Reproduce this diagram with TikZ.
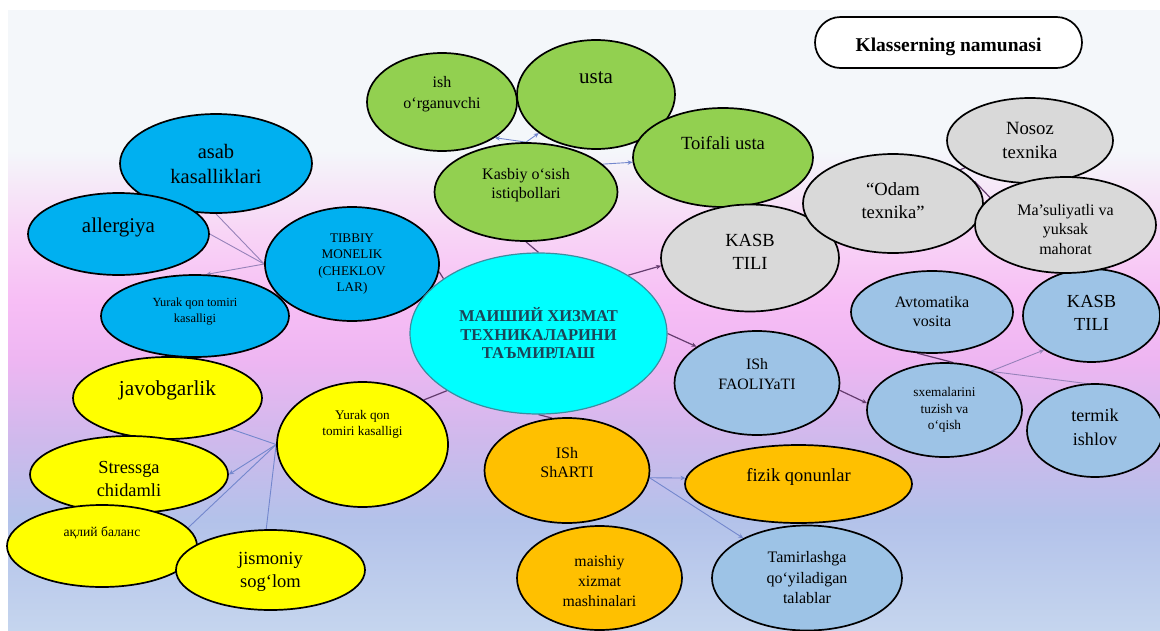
\documentclass[tikz,border=0pt]{standalone}
\usepackage{fontspec}
\setmainfont{Liberation Serif}
\usetikzlibrary{shapes.geometric,arrows.meta}
\newcommand{\myfs}[2]{\fontsize{#1}{#2}\selectfont}
\definecolor{cGreen}{HTML}{92D050}
\definecolor{cBlue}{HTML}{00B0F0}
\definecolor{cCyan}{HTML}{00FFFF}
\definecolor{cCyanB}{HTML}{3C8CA0}
\definecolor{cCenterT}{HTML}{1B4458}
\definecolor{cGrey}{HTML}{D9D9D9}
\definecolor{cLBlue}{HTML}{9DC3E6}
\definecolor{cOrange}{HTML}{FFC000}
\definecolor{cYellow}{HTML}{FFFF00}
\definecolor{bgT}{HTML}{F4F7FA}
\definecolor{bgA}{HTML}{F8D6F6}
\definecolor{bgB}{HTML}{F7BEF5}
\definecolor{bgC}{HTML}{EEB6F2}
\definecolor{bgD}{HTML}{CFB9EC}
\definecolor{bgE}{HTML}{B3C2EA}
\definecolor{bgF}{HTML}{C5D5EE}
\definecolor{eDark}{RGB}{100,60,110}
\definecolor{eLight}{RGB}{150,130,185}
\definecolor{eBlue}{RGB}{115,135,205}
\pgfdeclareverticalshading{bgshade}{100bp}{color(0bp)=(bgF); color(25bp)=(bgF); color(33.9bp)=(bgE); color(40.3bp)=(bgD); color(46.8bp)=(bgC); color(51.6bp)=(bgB); color(57.3bp)=(bgA); color(63.7bp)=(bgT); color(75bp)=(bgT); color(100bp)=(bgT)}
\pgfdeclarelayer{bgl}
\pgfdeclarelayer{edges}
\pgfsetlayers{bgl,edges,main}
\begin{document}
\begin{tikzpicture}[x=1pt,y=-1pt,
  ell/.style={ellipse,draw=black,line width=1.7pt,inner sep=0pt},
  E/.style n args={3}{ell,fill=#1,minimum width=#2,minimum height=#3},
  lbl/.style={align=center,inner sep=0pt,text=black},
  edgeDark/.style={draw=eDark,line width=1.2pt},
  edgeLight/.style={draw=eLight,line width=0.9pt},
  edgeBlue/.style={draw=eBlue,line width=0.9pt},
  tip/.style={-{Stealth[length=5pt,width=4.5pt]}}]
\useasboundingbox (0,0) rectangle (1160,630);
\begin{pgfonlayer}{bgl}
\fill[white] (0,0) rectangle (1160,630);
\shade[shading=bgshade] (8,10) rectangle (1160,630);
\end{pgfonlayer}

% title
\node[draw=black,line width=1.7pt,fill=white,rounded corners=25.5pt,minimum width=267,minimum height=51,inner sep=0pt,
  label={[lbl,yshift=-4,font=\bfseries\myfs{19.5}{22}]center:Klasserning namunasi}] (klass) at (948.5,42.5) {};

% green group
\node[E={cGreen}{150}{98}, label={[lbl,yshift=7.5,font=\myfs{16}{21}]center:ish\\o‘rganuvchi}] (ishorg) at (442,102) {};
\node[E={cGreen}{158}{109}, label={[lbl,yshift=16.5,font=\myfs{21}{25}]center:usta}] (usta) at (596,94.5) {};
\node[E={cGreen}{180}{99}, label={[lbl,yshift=14.5,font=\myfs{18.6}{23}]center:Toifali usta}] (toifali) at (723,157.5) {};
\node[E={cGreen}{183}{98}, label={[lbl,yshift=6.5,font=\myfs{16}{19}]center:Kasbiy o‘sish\\istiqbollari}] (kasbiy) at (526,192) {};

% blue group
\node[E={cBlue}{192}{99}, label={[lbl,yshift=0,font=\myfs{20.5}{25}]center:asab\\kasalliklari}] (asab) at (216,163.5) {};
\node[E={cBlue}{181}{82}, label={[lbl,yshift=7,font=\myfs{21}{25}]center:allergiya}] (allergiya) at (118.5,234) {};
\node[E={cBlue}{174}{114}, label={[lbl,yshift=0,font=\myfs{13.2}{16.5}]center:TIBBIY\\MONELIK\\(CHEKLOV\\LAR)}] (tibbiy) at (352,264) {};
\node[E={cBlue}{188}{82}, label={[lbl,yshift=4.5,font=\myfs{12.4}{16}]center:Yurak qon tomiri\\kasalligi}] (yurakB) at (195,316) {};

% light blue group
\node[E={cLBlue}{137}{93}, label={[lbl,yshift=3,font=\myfs{18.4}{23}]center:KASB\\TILI}] (kasb2) at (1091.5,315.5) {};
\node[E={cLBlue}{162}{82}, label={[lbl,yshift=0,font=\myfs{16}{19}]center:Avtomatika\\vosita}] (avto) at (932,312) {};
\node[E={cLBlue}{165}{104}, label={[lbl,yshift=9,font=\myfs{15.8}{20.5}]center:ISh\\FAOLIYaTI}] (faol) at (757,383) {};
\node[E={cLBlue}{155}{94}, label={[lbl,yshift=0,font=\myfs{13.3}{16.5}]center:sxemalarini\\tuzish va\\o‘qish}] (sxema) at (944.5,410) {};
\node[E={cLBlue}{136}{93}, label={[lbl,yshift=3,font=\myfs{18.1}{23.5}]center:termik\\ishlov}] (termik) at (1095,430.5) {};

% grey group
\node[E={cGrey}{178}{107}, label={[lbl,yshift=6.5,font=\myfs{18.5}{23}]center:KASB\\TILI}] (kasb1) at (750,258) {};
\node[E={cGrey}{180}{99}, label={[lbl,yshift=3,font=\myfs{18.6}{23}]center:“Odam\\texnika”}] (odam) at (893,203.5) {};
\node[E={cGrey}{166}{85}, label={[lbl,yshift=0,font=\myfs{18.7}{24}]center:Nosoz\\texnika}] (nosoz) at (1030,140.5) {};
\node[E={cGrey}{181}{96}, label={[lbl,yshift=-4.5,font=\myfs{16}{19.5}]center:Ma’suliyatli va\\yuksak\\mahorat}] (masul) at (1065.5,225) {};

% centre
\node[ellipse,draw=cCyanB,line width=1.2pt,fill=cCyan,inner sep=0pt,minimum width=257,minimum height=161,
  label={[lbl,text=cCenterT,yshift=0,font=\bfseries\myfs{16.5}{18.5}]center:МАИШИЙ ХИЗМАТ\\ТЕХНИКАЛАРИНИ\\ТАЪМИРЛАШ}] (central) at (538.5,333.5) {};

% yellow group
\node[E={cYellow}{189}{82}, label={[lbl,yshift=8,font=\myfs{21.3}{25}]center:javobgarlik}] (javob) at (167.5,398) {};
\node[E={cYellow}{198}{77}, label={[lbl,yshift=-4.5,font=\myfs{18.4}{22.5}]center:Stressga\\chidamli}] (stress) at (129,474.5) {};
\node[E={cYellow}{190}{82}, label={[lbl,yshift=13,font=\myfs{13.6}{16}]center:ақлий баланс}] (aqliy) at (102,546) {};
\node[E={cYellow}{189}{80}, label={[lbl,yshift=-2,font=\myfs{18.5}{23}]center:jismoniy\\sog‘lom}] (jismoniy) at (270.5,570) {};
\node[E={cYellow}{171}{125}, label={[lbl,yshift=20.5,font=\myfs{13.2}{16}]center:Yurak qon\\tomiri kasalligi}] (yurakY) at (362.5,444.5) {};

% orange group
\node[E={cOrange}{165}{105}, label={[lbl,yshift=8,font=\myfs{16}{19}]center:ISh\\ShARTI}] (sharti) at (567,470.5) {};
\node[E={cOrange}{227}{78}, label={[lbl,yshift=7,font=\myfs{18.5}{22}]center:fizik qonunlar}] (fizik) at (798.5,484) {};
\node[E={cOrange}{165}{104}, label={[lbl,yshift=-3,font=\myfs{15.8}{20}]center:maishiy\\xizmat\\mashinalari}] (maishiy) at (599.5,578) {};
\node[E={cLBlue}{190}{105}, label={[lbl,yshift=0,font=\myfs{16}{20.5}]center:Tamirlashga\\qo‘yiladigan\\talablar}] (tamir) at (807,578) {};

\begin{pgfonlayer}{edges}
\draw[edgeDark] (tibbiy.-5) -- (central.150);
\draw[edgeDark] (central.north) -- (kasbiy.south);
\draw[edgeDark,tip] (central.33) -- (kasb1.185);
\draw[edgeDark,tip] (central.east) -- (faol.149);
\draw[edgeDark] (central.south) -- (sharti.106);
\draw[edgeDark] (central.212) -- (yurakY.36);
\draw[edgeLight] (tibbiy.west) -- (asab.south);
\draw[edgeLight] (tibbiy.west) -- (allergiya.east);
\draw[edgeLight,tip] (tibbiy.west) -- (yurakB.75);
\draw[edgeBlue] (yurakY.west) -- (javob.-26);
\draw[edgeBlue,tip] (yurakY.west) -- (stress.east);
\draw[edgeBlue] (yurakY.west) -- (aqliy.12);
\draw[edgeBlue] (yurakY.west) -- (jismoniy.96);
\draw[edgeBlue,tip] (kasbiy.north) -- (ishorg.-34);
\draw[edgeBlue,tip] (kasbiy.north) -- (usta.214);
\draw[edgeBlue,tip] (kasbiy.20) -- (toifali.183);
\draw[edgeDark] (kasb1) -- (nosoz);
\draw[edgeDark] (odam.15) -- (masul.160);
\draw[edgeDark,tip] (faol.-5) -- (sxema.175);
\draw[edgeLight,tip] (sxema.40) -- (kasb2.216);
\draw[edgeLight] (sxema.40) -- (termik.52);
\draw[edgeDark] (avto.-110) -- (sxema.80);
\draw[edgeBlue,tip] (sharti.-5) -- (fizik.177);
\draw[edgeBlue,tip] (sharti.-5) -- (tamir.148);
\end{pgfonlayer}
\end{tikzpicture}
\end{document}
